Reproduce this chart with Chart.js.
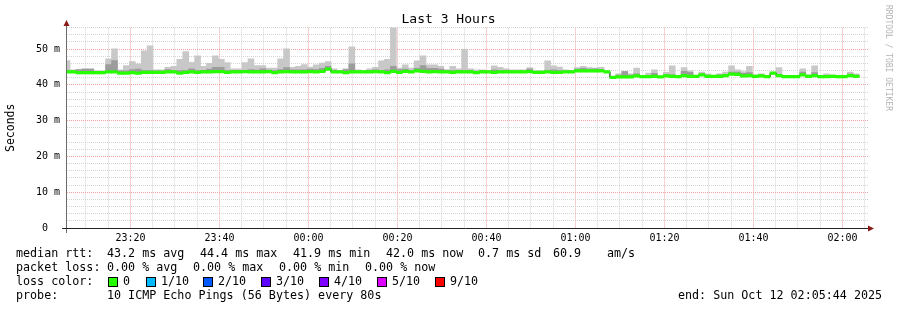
<!DOCTYPE html>
<html>
<head>
<meta charset="utf-8">
<title>Last 3 Hours</title>
<script src="https://cdn.jsdelivr.net/npm/chart.js@4/dist/chart.umd.min.js"></script>
<style>
    html, body { margin: 0; padding: 0; background: #fff; }
    #smoke { display: block; }
</style>
</head>
<body>
<canvas id="smoke" width="897" height="310"></canvas>
<script>
// median rtt per 80s step (ms)
const median = [
    43.6, 43.6, 43.4, 43.4, 43.4, 43.4, 43.4, 43.6, 43.6, 43.3,
    43.3, 43.4, 43.3, 43.5, 43.5, 43.5, 43.5, 43.6, 43.6, 43.3,
    43.5, 43.6, 43.5, 43.6, 43.6, 43.7, 43.7, 43.5, 43.6, 43.6,
    43.7, 43.6, 43.6, 43.6, 43.7, 43.4, 43.6, 43.7, 43.6, 43.6,
    43.6, 43.7, 43.6, 43.8, 44.4, 43.6, 43.6, 43.4, 43.6, 43.6,
    43.6, 43.6, 43.7, 43.6, 43.4, 43.8, 43.5, 43.8, 43.6, 43.9,
    43.8, 43.6, 43.7, 43.6, 43.6, 43.5, 43.6, 43.6, 43.6, 43.4,
    43.6, 43.6, 43.5, 43.6, 43.6, 43.6, 43.6, 43.6, 43.7, 43.5,
    43.5, 43.6, 43.5, 43.5, 43.6, 43.6, 43.9, 43.9, 43.9, 43.9,
    43.9, 43.6, 42.1, 42.2, 42.2, 42.2, 42.5, 42.3, 42.3, 42.4,
    42.2, 42.5, 42.4, 42.3, 42.6, 42.4, 42.4, 42.8, 42.4, 42.4,
    42.4, 42.6, 43.0, 42.9, 42.5, 42.6, 42.4, 42.5, 42.3, 43.3,
    42.6, 42.3, 42.3, 42.3, 42.8, 42.4, 42.6, 42.3, 42.3, 42.4,
    42.3, 42.3, 42.6, 42.4
];

// inner (darker) smoke top
const upper = [
    44.0, 43.9, 44.3, 44.4, 44.4, 43.8, 43.8, 45.7, 46.8, 43.9,
    43.9, 44.3, 44.4, 44.0, 44.0, 43.9, 43.9, 44.3, 44.0, 44.0,
    44.0, 44.5, 44.0, 44.0, 44.4, 44.9, 44.9, 44.0, 44.0, 44.0,
    44.0, 44.3, 44.1, 44.5, 44.1, 44.0, 44.3, 44.8, 44.2, 44.2,
    44.2, 44.4, 44.3, 44.6, 45.2, 44.0, 43.9, 44.3, 45.9, 43.9,
    43.9, 44.0, 44.2, 44.0, 44.2, 45.2, 44.3, 44.4, 44.0, 44.6,
    45.4, 44.6, 44.6, 44.4, 44.0, 44.0, 44.0, 44.0, 44.0, 43.8,
    43.9, 43.9, 44.2, 44.0, 44.0, 43.9, 43.9, 43.9, 44.4, 43.8,
    43.8, 44.0, 44.2, 44.0, 43.9, 43.9, 44.4, 44.6, 44.4, 44.5,
    44.3, 43.8, 42.4, 42.7, 43.7, 42.7, 43.1, 42.5, 42.6, 43.2,
    42.4, 42.8, 42.8, 42.4, 43.8, 43.5, 42.5, 43.1, 42.7, 42.5,
    42.8, 42.8, 43.6, 43.6, 43.2, 43.4, 42.6, 42.8, 42.5, 43.5,
    42.9, 42.4, 42.4, 42.4, 43.6, 42.6, 43.4, 42.4, 42.6, 42.6,
    42.4, 42.4, 43.0, 42.6
];

// outer (light) smoke top = slowest ping of the step
const maxRtt = [
    46.8, 44.2, 44.2, 44.5, 44.5, 43.9, 43.9, 47.3, 50.1, 44.2,
    45.4, 46.5, 45.9, 49.5, 50.9, 44.2, 44.2, 44.9, 45.2, 47.1,
    49.3, 46.3, 48.1, 45.2, 46.0, 48.1, 47.1, 46.2, 44.5, 44.5,
    46.2, 47.3, 45.4, 45.4, 44.7, 44.7, 47.3, 50.1, 44.9, 45.2,
    45.7, 45.0, 45.6, 46.1, 46.5, 44.5, 43.9, 44.5, 50.6, 44.2,
    43.9, 44.5, 44.9, 46.7, 47.1, 56.1, 44.7, 45.6, 44.7, 46.7,
    48.1, 45.6, 45.6, 45.2, 44.3, 45.2, 44.5, 49.9, 44.5, 44.2,
    44.2, 44.0, 45.3, 44.9, 44.5, 44.2, 44.2, 44.2, 44.8, 44.0,
    44.0, 46.7, 45.3, 45.0, 44.2, 43.9, 44.8, 45.2, 44.8, 44.7,
    44.9, 43.8, 42.4, 43.1, 43.8, 43.1, 44.7, 42.6, 43.3, 44.2,
    42.4, 43.5, 45.3, 42.5, 44.8, 43.9, 42.6, 43.6, 43.0, 42.6,
    43.1, 43.6, 45.3, 44.2, 43.7, 45.2, 42.8, 43.1, 42.6, 43.6,
    44.8, 42.4, 42.4, 42.4, 44.5, 42.9, 45.3, 42.5, 43.1, 42.8,
    42.6, 42.5, 43.6, 43.1
];

const timeLabels = ['23:20', '23:40', '00:00', '00:20', '00:40', '01:00', '01:20', '01:40', '02:00'];
const yLabels = ['0', '10 m', '20 m', '30 m', '40 m', '50 m'];
const lossLabels = ['0', '1/10', '2/10', '3/10', '4/10', '5/10', '9/10'];
const lossColors = ['#26ff00', '#00b8ff', '#0059ff', '#5e00ff', '#7e00ff', '#dd00ff', '#ff0000'];

const MONO = "'DejaVu Sans Mono', monospace";
const stepMin = 80 / 60;                       // smokeping step, minutes
const firstStep = -0.66;                       // first (clipped) step start, minutes after 23:05:44
const firstGrid = (23 * 60 + 10) - (23 * 60 + 5 + 44 / 60);   // 23:10:00
const GRID_GRAY = '#d4d4d4';
const GRID_RED = '#f2a0a0';

let stepStart = i => firstStep + i * stepMin;
let stepMid = i => stepStart(i) + stepMin / 2;

let gridTicks = [];
for (let k = 0; firstGrid + k * 5 <= 180; k++) {
    gridTicks.push({ value: firstGrid + k * 5 });
}

let medianLine = median.map((v, i) => ({ x: stepStart(i), y: v }));
medianLine.push({ x: stepStart(median.length), y: median[median.length - 1] });

const footer = {
    id: 'footer',
    afterDraw(chart) {
        const ctx = chart.ctx;
        const area = chart.chartArea;
        ctx.save();

        // title, centred on the whole image like rrdtool does
        ctx.fillStyle = '#000';
        ctx.font = '13px ' + MONO;
        ctx.textAlign = 'center';
        ctx.textBaseline = 'middle';
        ctx.fillText('Last 3 Hours', 448.5, 20);

        // axes + arrows
        ctx.lineWidth = 1;
        ctx.strokeStyle = '#6e6e6e';
        ctx.beginPath();
        ctx.moveTo(66.5, 233);
        ctx.lineTo(66.5, 23);
        ctx.stroke();
        ctx.strokeStyle = '#222';
        ctx.beginPath();
        ctx.moveTo(62, 228.5);
        ctx.lineTo(area.right + 1, 228.5);
        ctx.stroke();

        ctx.fillStyle = '#8b1a1a';
        ctx.beginPath();
        ctx.moveTo(66.5, 20);
        ctx.lineTo(63.5, 26);
        ctx.lineTo(69.5, 26);
        ctx.closePath();
        ctx.fill();
        ctx.beginPath();
        ctx.moveTo(area.right + 6, 228.5);
        ctx.lineTo(area.right, 225.5);
        ctx.lineTo(area.right, 231.5);
        ctx.closePath();
        ctx.fill();

        // legend text
        ctx.fillStyle = '#000';
        ctx.font = '11.7px ' + MONO;
        ctx.textBaseline = 'middle';
        ctx.textAlign = 'left';
        const rows = [
            [254, [[16, 'median rtt:'], [107, '43.2 ms avg'], [200, '44.4 ms max'], [293, '41.9 ms min'],
                   [386, '42.0 ms now'], [478, '0.7 ms sd'], [553, '60.9'], [607, 'am/s']]],
            [268, [[16, 'packet loss:'], [107, '0.00 % avg'], [193, '0.00 % max'], [279, '0.00 % min'],
                   [365, '0.00 % now']]],
            [282, [[16, 'loss color:']]],
            [296, [[16, 'probe:'], [107, '10 ICMP Echo Pings (56 Bytes) every 80s'],
                   [678, 'end: Sun Oct 12 02:05:44 2025']]]
        ];
        rows.forEach(([y, parts]) => {
            parts.forEach(([x, txt]) => ctx.fillText(txt, x, y));
        });

        const boxX = [108.5, 146.5, 203.5, 261.5, 319.5, 377.5, 435.5];
        lossLabels.forEach((lbl, i) => {
            ctx.fillStyle = lossColors[i];
            ctx.fillRect(boxX[i], 277.5, 9, 9);
            ctx.strokeStyle = '#000';
            ctx.strokeRect(boxX[i], 277.5, 9, 9);
            ctx.fillStyle = '#000';
            ctx.fillText(lbl, boxX[i] + 14.5, 282);
        });

        // watermark
        ctx.translate(888, 5);
        ctx.rotate(Math.PI / 2);
        ctx.font = '8px ' + MONO;
        ctx.fillStyle = '#b4b4b4';
        ctx.textBaseline = 'middle';
        ctx.fillText('RRDTOOL / TOBI OETIKER', 0, 0);

        ctx.restore();
    }
};

new Chart(document.getElementById('smoke'), {
    type: 'bar',
    data: {
        datasets: [
            {
                type: 'bar',
                label: 'green',
                data: median.map((v, i) => ({ x: stepMid(i), y: [v - 0.36, v + 0.36] })),
                backgroundColor: lossColors[0],
                grouped: false,
                barPercentage: 1,
                categoryPercentage: 1,
                order: 1
            },
            {
                type: 'line',
                label: 'median',
                data: medianLine,
                borderColor: '#000',
                borderWidth: 1,
                pointRadius: 0,
                stepped: true,
                order: 2
            },
            {
                type: 'bar',
                label: 'inner smoke',
                data: upper.map((v, i) => ({ x: stepMid(i), y: [median[i], v] })),
                backgroundColor: '#9c9c9c',
                grouped: false,
                barPercentage: 1,
                categoryPercentage: 1,
                order: 3
            },
            {
                type: 'bar',
                label: 'smoke',
                data: maxRtt.map((v, i) => ({ x: stepMid(i), y: [median[i], v] })),
                backgroundColor: '#c8c8c8',
                grouped: false,
                barPercentage: 1,
                categoryPercentage: 1,
                order: 4
            }
        ]
    },
    options: {
        responsive: false,
        devicePixelRatio: 1,
        animation: false,
        layout: { padding: { left: 0, right: 29, top: 27.6, bottom: 0 } },
        plugins: {
            legend: { display: false },
            tooltip: { enabled: false },
            title: { display: false }
        },
        scales: {
            x: {
                type: 'linear',
                min: 0,
                max: 180,
                offset: false,
                afterFit: s => { s.height = 82; },
                afterBuildTicks: s => { s.ticks = gridTicks.map(t => ({ value: t.value })); },
                grid: {
                    offset: false,
                    drawTicks: false,
                    borderDash: [1, 1],
                    color: c => (c.index % 4 === 2 ? GRID_RED : GRID_GRAY)
                },
                border: { display: false, dash: [1, 1] },
                ticks: {
                    autoSkip: false,
                    maxRotation: 0,
                    padding: 4,
                    color: '#000',
                    font: { family: MONO, size: 10 },
                    callback: (v, i) => (i % 4 === 2 ? timeLabels[(i - 2) / 4] : '')
                }
            },
            y: {
                min: 0,
                max: 56,
                afterFit: s => { s.width = 67; },
                grid: {
                    drawTicks: false,
                    borderDash: [1, 1],
                    color: c => {
                        if (c.tick.value === 0) return 'rgba(0,0,0,0)';
                        return c.tick.value % 10 === 0 ? GRID_RED : GRID_GRAY;
                    }
                },
                border: { display: false, dash: [1, 1] },
                title: {
                    display: true,
                    text: 'Seconds',
                    color: '#000',
                    font: { family: MONO, size: 11.5 },
                    padding: { top: 4, bottom: 0 }
                },
                ticks: {
                    stepSize: 2,
                    autoSkip: false,
                    padding: 7,
                    color: '#000',
                    font: { family: MONO, size: 10 },
                    callback: v => {
                        if (v % 10 !== 0) return '';
                        let lbl = yLabels[v / 10];
                        return v === 0 ? lbl + '  ' : lbl;
                    }
                }
            }
        }
    },
    plugins: [footer]
});
</script>
</body>
</html>
